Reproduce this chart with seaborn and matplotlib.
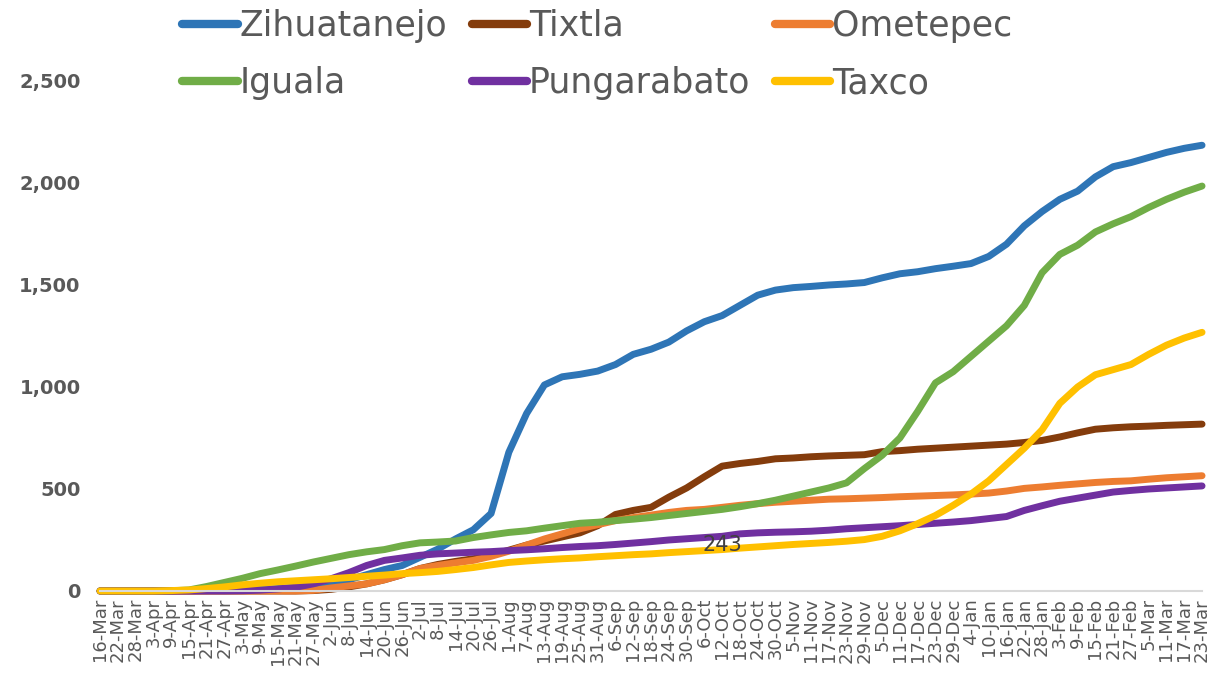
import pandas as pd
import numpy as np
import matplotlib.pyplot as plt
import matplotlib.ticker as mticker
import seaborn as sns

# fechas cada 6 dias (16-Mar-2020 a 23-Mar-2021)
fechas = pd.date_range('2020-03-16', '2021-03-23', freq='6D')

zihuatanejo = [0, 0, 0, 0, 0, 1, 2, 4, 6, 8, 12, 18, 28, 40, 55, 80, 105, 125, 165, 205,
               255, 300, 380, 680, 870, 1010, 1050, 1062, 1078, 1110, 1160, 1185, 1220, 1275,
               1320, 1350, 1400, 1450, 1475, 1487, 1493, 1500, 1505, 1512, 1535, 1555, 1565,
               1580, 1592, 1605, 1640, 1700, 1790, 1860, 1920, 1960, 2030, 2080, 2100, 2125,
               2150, 2170, 2185]
tixtla = [0, 0, 0, 0, 0, 0, 0, 0, 0, 0, 0, 0, 2, 8, 20, 35, 55, 80, 110, 130, 145, 158, 175,
          200, 225, 245, 265, 285, 320, 375, 395, 410, 460, 505, 560, 612, 625, 635, 648, 652,
          658, 662, 665, 668, 683, 688, 695, 700, 705, 710, 715, 720, 728, 738, 755, 775, 793,
          800, 805, 808, 812, 815, 818]
ometepec = [0, 0, 0, 0, 0, 0, 0, 0, 0, 0, 0, 0, 3, 15, 25, 35, 55, 80, 110, 125, 138, 150, 170,
            195, 225, 255, 280, 305, 325, 345, 360, 372, 385, 395, 400, 410, 420, 428, 435, 440,
            445, 450, 452, 455, 458, 462, 465, 468, 471, 475, 480, 490, 503, 510, 518, 525, 532,
            537, 540, 548, 555, 560, 565]
iguala = [0, 0, 0, 0, 1, 5, 22, 42, 62, 85, 103, 122, 142, 160, 178, 192, 203, 222, 236, 240,
          245, 262, 275, 287, 295, 308, 320, 332, 337, 345, 352, 360, 370, 380, 390, 400, 413,
          428, 445, 465, 485, 505, 530, 600, 665, 750, 880, 1020, 1075, 1150, 1225, 1300, 1400,
          1560, 1650, 1695, 1760, 1800, 1835, 1880, 1920, 1955, 1985]
pungarabato = [0, 0, 0, 0, 0, 0, 0, 0, 1, 4, 10, 18, 35, 60, 90, 125, 150, 162, 175, 182, 186,
               190, 193, 198, 202, 207, 213, 218, 222, 228, 235, 242, 250, 256, 262, 268, 280,
               285, 288, 290, 293, 298, 305, 310, 315, 320, 326, 332, 338, 345, 355, 365, 395,
               418, 440, 455, 470, 485, 493, 500, 505, 510, 515]
taxco = [0, 0, 0, 0, 2, 5, 12, 20, 30, 38, 45, 50, 55, 60, 66, 72, 78, 85, 90, 96, 105, 115,
         128, 140, 147, 153, 158, 162, 168, 173, 178, 182, 188, 193, 198, 203, 210, 216, 222,
         228, 233, 238, 244, 252, 268, 295, 330, 370, 420, 475, 540, 620, 700, 790, 920, 1000,
         1060, 1085, 1110, 1160, 1205, 1240, 1268]

# orden de las series (como en Excel) y colores
municipios = ['Zihuatanejo', 'Tixtla', 'Ometepec', 'Iguala', 'Pungarabato', 'Taxco']
colores = ['#2E75B6', '#843C0C', '#ED7D31', '#70AD47', '#7030A0', '#FFC000']
valores = [zihuatanejo, tixtla, ometepec, iguala, pungarabato, taxco]

etiqueta_fecha = pd.Timestamp('2020-10-12')
etiqueta_valor = 225
etiqueta_texto = '243'

df = pd.concat([pd.DataFrame({'fecha': fechas, 'casos': v, 'municipio': m})
                for m, v in zip(municipios, valores)], ignore_index=True)

sns.set_style('white')
plt.rcParams['font.family'] = ['DejaVu Sans']

fig = plt.figure(figsize=(12.11, 6.8), dpi=100)
ax = fig.add_axes([0.0826, 0.1309, 0.9100, 0.7500])

sns.lineplot(data=df, x='fecha', y='casos', hue='municipio', hue_order=municipios,
             palette=colores, linewidth=5, ax=ax, legend=False)
for ln in ax.lines:
    ln.set_clip_on(False)
    ln.set_solid_joinstyle('round')
    ln.set_solid_capstyle('round')

ax.text(etiqueta_fecha, etiqueta_valor, etiqueta_texto, ha='center', va='center',
        fontsize=15, color='#404040')

gris = '#595959'
ax.set_xlim(fechas[0], fechas[-1])
ax.set_ylim(0, 2500)
ax.set_yticks(np.arange(0, 2501, 500))
ax.yaxis.set_major_formatter(mticker.StrMethodFormatter('{x:,.0f}'))
ax.set_xticks(fechas)
ax.set_xticklabels([f"{d.day}-{d.strftime('%b')}" for d in fechas], rotation=90,
                   fontsize=13, color=gris)
for t in ax.get_yticklabels():
    t.set_fontweight('bold')
ax.tick_params(axis='y', length=0, pad=14, labelsize=14, labelcolor=gris)
ax.tick_params(axis='x', length=0, pad=5)
ax.set_xlabel('')
ax.set_ylabel('')

for s in ['top', 'right', 'left']:
    ax.spines[s].set_visible(False)
ax.spines['bottom'].set_color('#D9D9D9')
ax.spines['bottom'].set_linewidth(1.5)

# leyenda en 2 filas x 3 columnas (orden por filas)
handles = [plt.Line2D([], [], color=c, lw=6, solid_capstyle='round') for c in colores]
orden = [0, 3, 1, 4, 2, 5]
fig.legend([handles[i] for i in orden], [municipios[i] for i in orden], ncol=3,
           loc='upper left', bbox_to_anchor=(0.1362, 1.0126), frameon=False, borderpad=0,
           fontsize=25, labelcolor=gris, handlelength=1.6, handletextpad=0.05,
           columnspacing=0.7, labelspacing=0.68)

fig.savefig('out.png', dpi=100)
